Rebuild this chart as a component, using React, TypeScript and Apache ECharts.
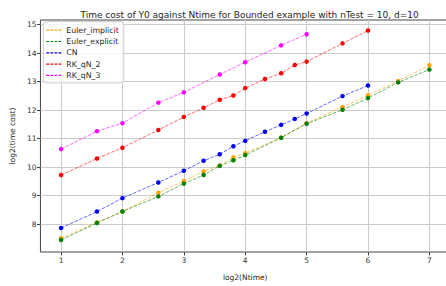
import React, { useEffect, useRef } from "react";
import * as echarts from "echarts";

const xEuler = [1, 1.585, 2, 2.585, 3, 3.322, 3.585, 3.807, 4, 4.585, 5, 5.585, 6, 6.492, 7];
const eulerImplicit = [7.5, 8.06, 8.44, 9.1, 9.51, 9.85, 10.06, 10.34, 10.49, 11.03, 11.54, 12.11, 12.52, 13.02, 13.57];
const eulerExplicit = [7.44, 8.04, 8.44, 8.97, 9.42, 9.72, 10.04, 10.24, 10.42, 11.03, 11.52, 12.01, 12.42, 12.97, 13.42];
const xCN = [1, 1.585, 2, 2.585, 3, 3.322, 3.585, 3.807, 4, 4.322, 4.585, 4.807, 5, 5.585, 6];
const cn = [7.86, 8.44, 8.91, 9.46, 9.87, 10.22, 10.45, 10.73, 10.92, 11.24, 11.48, 11.69, 11.88, 12.49, 12.86];
const rkqn2 = [9.72, 10.3, 10.68, 11.3, 11.76, 12.08, 12.36, 12.51, 12.77, 13.09, 13.29, 13.58, 13.7, 14.34, 14.79];
const xRK3 = [1, 1.585, 2, 2.585, 3, 3.585, 4, 4.585, 5];
const rkqn3 = [10.63, 11.26, 11.54, 12.26, 12.62, 13.25, 13.68, 14.27, 14.66];

const xTicks = [1, 2, 3, 4, 5, 6, 7];
const yTicks = [8, 9, 10, 11, 12, 13, 14, 15];

const seriesDefs = [
  { name: "Euler_implicit", color: "#FFA500", x: xEuler, y: eulerImplicit },
  { name: "Euler_explicit", color: "#008000", x: xEuler, y: eulerExplicit },
  { name: "CN", color: "#0000FF", x: xCN, y: cn },
  { name: "RK_qN_2", color: "#FF0000", x: xCN, y: rkqn2 },
  { name: "RK_qN_3", color: "#FF00FF", x: xRK3, y: rkqn3 },
];

const FONT = "DejaVu Sans";
const dashIcon = "path://M0,0h2.8v1.2H0z M4.1,0h2.8v1.2H4.1z M8.2,0h2.8v1.2H8.2z M12.3,0h2.7v1.2H12.3z";

export default function App() {
  const ref = useRef<HTMLDivElement>(null);
  useEffect(() => {
    if (!ref.current) return;
    const chart = echarts.init(ref.current, undefined, { renderer: "svg" });
    chart.setOption({
      animation: false,
      backgroundColor: "#ffffff",
      textStyle: { fontFamily: FONT },
      title: {
        text: "Time cost of Y0 against Ntime for Bounded example with nTest = 10, d=10",
        left: 244.6,
        textAlign: "center",
        top: 5,
        textStyle: { fontFamily: FONT, fontSize: 9, fontWeight: "normal", color: "#262626" },
      },
      grid: {
        left: 39.3,
        right: 0,
        top: 20,
        bottom: 27.7,
        show: true,
        borderColor: "#444",
        borderWidth: 1,
        backgroundColor: "#ffffff",
      },
      legend: {
        orient: "vertical",
        left: 43.3,
        top: 21.7,
        padding: [3, 5, 2, 3],
        itemGap: 0.3,
        itemWidth: 15,
        itemHeight: 1.2,
        icon: dashIcon,
        backgroundColor: "rgba(255,255,255,0.8)",
        borderColor: "#cccccc",
        borderWidth: 1,
        borderRadius: 3,
        textStyle: { fontFamily: FONT, fontSize: 7.8, color: "#262626", lineHeight: 11 },
        data: seriesDefs.map((s) => s.name),
      },
      xAxis: {
        type: "value",
        min: 0.664,
        max: 7.336,
        name: "log2(Ntime)",
        nameLocation: "middle",
        nameGap: 21,
        nameTextStyle: { fontFamily: FONT, fontSize: 7.5, color: "#262626" },
        axisLine: { show: false },
        axisTick: { show: true, length: 3.5, customValues: xTicks, lineStyle: { color: "#444" } },
        axisLabel: { customValues: xTicks, fontSize: 7.5, color: "#333", margin: 4, fontFamily: FONT },
        splitLine: { show: true, lineStyle: { color: "#cccccc", width: 1 } },
      },
      yAxis: {
        type: "value",
        min: 7.02,
        max: 15.16,
        name: "log2(time cost)",
        nameLocation: "middle",
        nameRotate: 90,
        nameGap: 19,
        nameTextStyle: { fontFamily: FONT, fontSize: 7.5, color: "#262626" },
        axisLine: { show: false },
        axisTick: { show: true, length: 3.5, customValues: yTicks, lineStyle: { color: "#444" } },
        axisLabel: { customValues: yTicks, fontSize: 7.5, color: "#333", margin: 4, fontFamily: FONT },
        splitLine: { show: true, lineStyle: { color: "#cccccc", width: 1 } },
      },
      series: seriesDefs.map((s) => ({
        name: s.name,
        type: "line",
        data: s.x.map((xv, i) => [xv, s.y[i]]),
        symbol: "circle",
        symbolSize: 4.5,
        showSymbol: true,
        color: s.color,
        itemStyle: { color: s.color, opacity: 1 },
        lineStyle: { color: s.color, width: 1, type: [3.5, 1.5], opacity: 0.6 },
      })),
    });
    return () => chart.dispose();
  }, []);
  return (
    <div
      ref={ref}
      style={{ position: "absolute", left: 0, top: 0, width: 450, height: 286 }}
    />
  );
}
